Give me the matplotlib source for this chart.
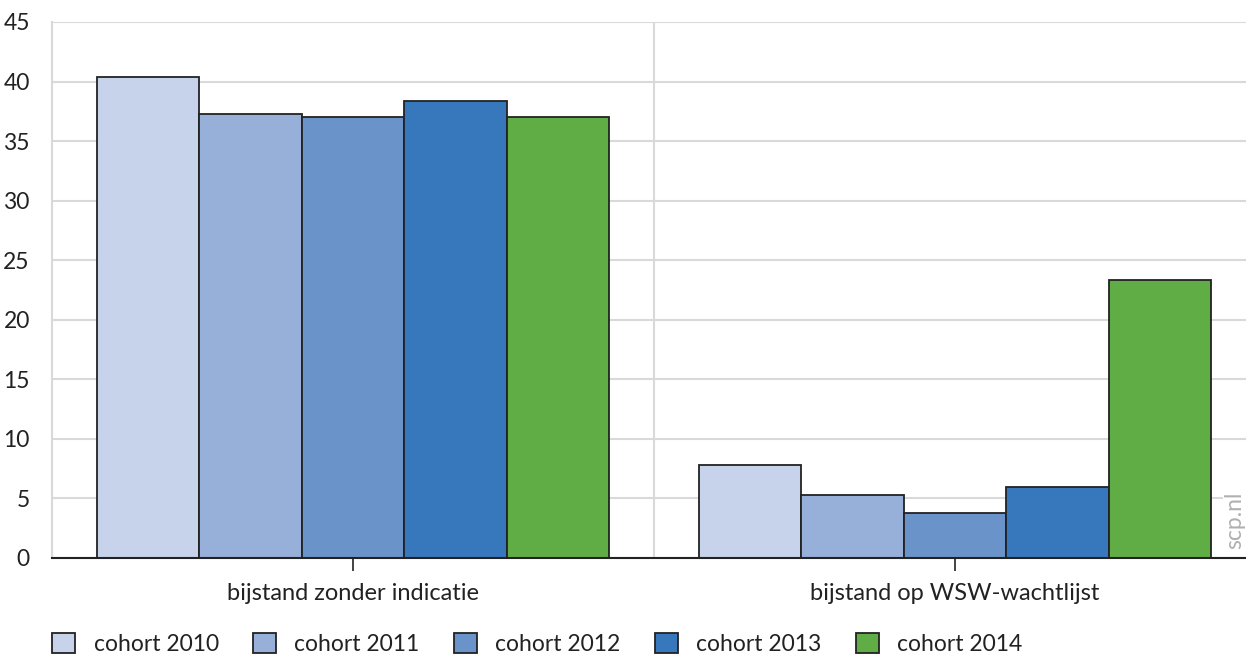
import matplotlib.pyplot as plt
import numpy as np

plt.rcParams['font.family'] = ['Lato', 'DejaVu Sans']

groups = ['bijstand zonder indicatie', 'bijstand op WSW-wachtlijst']
cohorts = ['cohort 2010', 'cohort 2011', 'cohort 2012', 'cohort 2013', 'cohort 2014']
cohort_2010 = [40.4, 7.8]
cohort_2011 = [37.3, 5.3]
cohort_2012 = [37.0, 3.8]
cohort_2013 = [38.4, 6.0]
cohort_2014 = [37.0, 23.3]
colors = ['#c7d3eb', '#97b0da', '#6a93c9', '#3778bd', '#61ad45']

series = [cohort_2010, cohort_2011, cohort_2012, cohort_2013, cohort_2014]

fig = plt.figure(figsize=(12.46, 6.57), dpi=100)
# axes run a little past the right edge, like the original
ax = fig.add_axes([52/1246, 1 - 558/657, 1204/1246, 536/657])

x = np.arange(len(groups))
w = 0.17
for i, vals in enumerate(series):
    ax.bar(x + (i - 2) * w, vals, w, color=colors[i], edgecolor='#222222',
           linewidth=1.3, label=cohorts[i], zorder=3)

ax.set_xlim(-0.5, 1.5)
ax.set_ylim(0, 45)
ax.set_yticks(range(0, 46, 5))
ax.yaxis.grid(True, color='#d9d9d9', linewidth=1.5, zorder=0)
ax.axvline(0.5, color='#d9d9d9', linewidth=1.5, zorder=0)
for s in ['top', 'right']:
    ax.spines[s].set_visible(False)
ax.spines['left'].set_color('#d9d9d9')
ax.spines['left'].set_linewidth(1.5)
ax.spines['bottom'].set_color('#222222')
ax.spines['bottom'].set_linewidth(1.5)
ax.spines['bottom'].set_zorder(4)
ax.tick_params(axis='y', length=0, labelsize=16.5, pad=16, labelcolor='#222222')
ax.set_xticks(x)
ax.set_xticklabels(groups)
ax.tick_params(axis='x', length=9, width=1.2, color='#222222', labelsize=17,
               pad=9, labelcolor='#222222')

# watermark sits over the grid, so give it a white backing
fig.text(1235/1246, 1 - 520/657, 'scp.nl', rotation=90, color='#b0b0b0',
         fontsize=16.5, ha='center', va='center',
         bbox=dict(facecolor='white', edgecolor='none', pad=1))

fig.legend(loc='lower left', bbox_to_anchor=(50/1246, 0.0), ncol=5,
           frameon=False, fontsize=16.5, handlelength=1.0, handleheight=1.0,
           handletextpad=0.8, columnspacing=1.5, labelcolor='#222222',
           borderpad=0.1, borderaxespad=0)

fig.savefig('out.png', dpi=100)
